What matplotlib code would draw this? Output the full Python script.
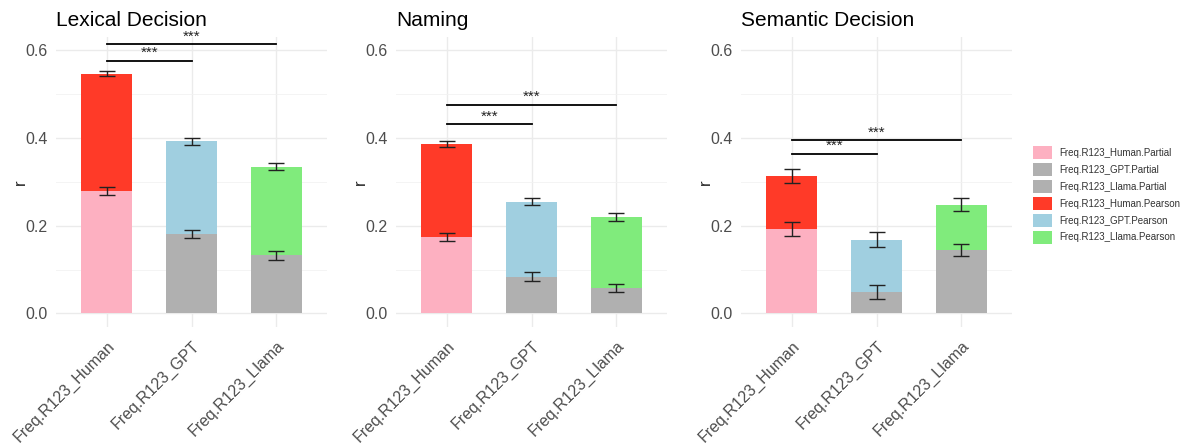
import numpy as np
import matplotlib.pyplot as plt
from matplotlib.patches import Patch

plt.rcParams['font.family'] = ['Liberation Sans', 'DejaVu Sans']

# 数据
tasks = ['Lexical Decision', 'Naming', 'Semantic Decision']
models = ['Freq.R123_Human', 'Freq.R123_GPT', 'Freq.R123_Llama']

pearson = [[0.546, 0.392, 0.334],
           [0.387, 0.254, 0.219],
           [0.313, 0.168, 0.248]]
pearson_err = [[0.006, 0.008, 0.008],
               [0.007, 0.008, 0.009],
               [0.015, 0.017, 0.015]]
partial = [[0.278, 0.181, 0.132],
           [0.175, 0.084, 0.058],
           [0.193, 0.048, 0.144]]
partial_err = [[0.009, 0.010, 0.010],
               [0.009, 0.010, 0.009],
               [0.016, 0.016, 0.014]]
# 显著性标记线高度 (Human vs GPT, Human vs Llama)
sig_y = [[0.576, 0.614],
         [0.431, 0.476],
         [0.364, 0.395]]

partial_colors = ['#FDB0C1', '#B0B0B0', '#B0B0B0']
pearson_colors = ['#FF3A28', '#A0CFE0', '#80EB7C']
legend_labels = ['Freq.R123_Human.Partial', 'Freq.R123_GPT.Partial', 'Freq.R123_Llama.Partial',
                 'Freq.R123_Human.Pearson', 'Freq.R123_GPT.Pearson', 'Freq.R123_Llama.Pearson']

W, H = 1195, 443
fig = plt.figure(figsize=(W / 100, H / 100), dpi=100)

# 面板像素位置 (left, right)
panel_px = [(56, 327), (396, 667), (741, 1012)]
top_px, bot_px = 37, 327

x = np.arange(len(models))
for i, task in enumerate(tasks):
    l, r = panel_px[i]
    ax = fig.add_axes([l / W, 1 - bot_px / H, (r - l) / W, (bot_px - top_px) / H])

    ax.bar(x, pearson[i], width=0.6, color=pearson_colors, zorder=2)
    ax.bar(x, partial[i], width=0.6, color=partial_colors, zorder=3)
    ax.errorbar(x, pearson[i], yerr=pearson_err[i], fmt='none', ecolor='#222222',
                elinewidth=1, capsize=6, capthick=1, zorder=4)
    ax.errorbar(x, partial[i], yerr=partial_err[i], fmt='none', ecolor='#222222',
                elinewidth=1, capsize=6, capthick=1, zorder=4)

    # 显著性
    for j, target in enumerate([1, 2]):
        yy = sig_y[i][j]
        ax.plot([0, target], [yy, yy], color='black', lw=1.3, zorder=5)
        ax.text(target / 2, yy + 0.001, '***', ha='center', va='bottom', fontsize=11, color='#222222')

    ax.set_xlim(-0.6, 2.6)
    ax.set_ylim(-0.031, 0.63)
    ax.set_yticks([0.0, 0.2, 0.4, 0.6])
    ax.set_yticks([0.1, 0.3, 0.5], minor=True)
    ax.set_yticklabels(['0.0', '0.2', '0.4', '0.6'])
    ax.set_xticks(x)
    ax.set_xticklabels(models, rotation=45, ha='right', rotation_mode='anchor')
    ax.tick_params(axis='both', which='both', length=0, labelsize=11.5, labelcolor='#4D4D4D')
    ax.tick_params(axis='x', pad=8)
    ax.tick_params(axis='y', pad=6)
    ax.grid(True, which='major', color='#EBEBEB', lw=1.0, zorder=0)
    ax.grid(True, which='minor', axis='y', color='#F2F2F2', lw=0.6, zorder=0)
    ax.set_axisbelow(True)
    for s in ax.spines.values():
        s.set_visible(False)
    ax.set_ylabel('r', fontsize=12, color='#222222', labelpad=-2)
    ax.set_title(task, fontsize=15, loc='left', color='black', pad=8)

handles = [Patch(facecolor=c) for c in partial_colors + pearson_colors]
fig.legend(handles, legend_labels, loc='center left', bbox_to_anchor=(1024 / W, 1 - 195 / H),
           frameon=False, fontsize=7, handlelength=1.95, handleheight=1.75,
           labelspacing=0.36, handletextpad=0.8, labelcolor='#333333')

fig.savefig('out.png', dpi=100)
